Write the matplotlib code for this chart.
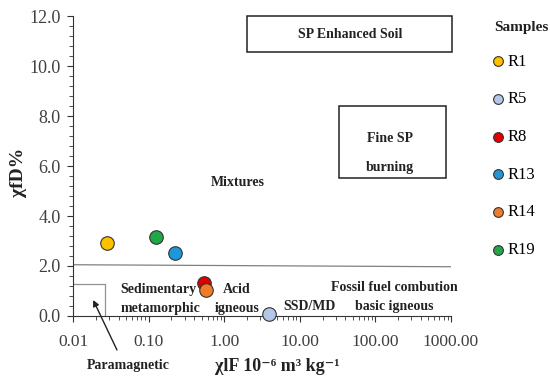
import matplotlib.pyplot as plt
from matplotlib.ticker import FixedLocator, MultipleLocator, LogLocator, NullFormatter

plt.rcParams['font.family'] = ['Liberation Serif', 'DejaVu Serif']

## data
samples = ["R1", "R5", "R8", "R13", "R14", "R19"]
chi_lf = [0.028, 3.9, 0.54, 0.22, 0.57, 0.125]
chi_fd = [2.92, 0.08, 1.32, 2.52, 1.04, 3.18]
colors = ["#FFC000", "#B4C7E7", "#E00000", "#1F97D6", "#F07C28", "#1FA846"]

x_ticks = [0.01, 0.1, 1, 10, 100, 1000]
x_labels = ["0.01", "0.10", "1.00", "10.00", "100.00", "1000.00"]
y_ticks = [0, 2, 4, 6, 8, 10, 12]

## chart
fig = plt.figure(figsize=(5.5, 3.83), dpi=100)
ax = fig.add_axes([0.133, 0.175, 0.687, 0.783])

ax.set_xscale("log")
ax.set_xlim(0.01, 1000)
ax.set_ylim(0, 12)

# threshold line
ax.plot([0.01, 1000], [2.05, 1.97], color="#808080", lw=0.9, zorder=1)

# paramagnetic box
ax.plot([0.01, 0.0265, 0.0265], [1.28, 1.28, 0], color="#909090", lw=0.9, zorder=1)

# region boxes
ax.add_patch(plt.Rectangle((2.0, 10.56), 1020 - 2.0, 1.44, fill=False,
                           ec="#222222", lw=1.1, clip_on=False))
ax.add_patch(plt.Rectangle((33, 5.52), 850 - 33, 2.88, fill=False,
                           ec="#222222", lw=1.1, clip_on=False))

bold = dict(fontsize=10, fontweight="bold", color="#222222")
ax.text(46, 11.28, "SP Enhanced Soil", ha="center", va="center", **bold)
ax.text(155, 7.12, "Fine SP", ha="center", va="center", **bold)
ax.text(155, 5.96, "burning", ha="center", va="center", **bold)
ax.text(1.52, 5.36, "Mixtures", ha="center", va="center", **bold)
ax.text(0.042, 1.04, "Sedimentary", ha="left", va="center", **bold)
ax.text(0.042, 0.28, "metamorphic", ha="left", va="center", **bold)
ax.text(0.96, 1.04, "Acid", ha="left", va="center", **bold)
ax.text(0.75, 0.28, "igneous", ha="left", va="center", **bold)
ax.text(6.0, 0.36, "SSD/MD", ha="left", va="center", **bold)
ax.text(176, 1.12, "Fossil fuel combution", ha="center", va="center", **bold)
ax.text(176, 0.36, "basic igneous", ha="center", va="center", **bold)

ax.text(0.053, -2.0, "Paramagnetic", ha="center", va="center", clip_on=False, **bold)
ax.annotate("", xy=(0.0184, 0.64), xytext=(0.038, -1.36), annotation_clip=False,
            arrowprops=dict(arrowstyle="-|>", color="#222222", lw=1.0,
                            mutation_scale=9, shrinkA=0, shrinkB=0))

for name, x, y, c in zip(samples, chi_lf, chi_fd, colors):
    ax.scatter(x, y, s=95, color=c, edgecolor="#333333", linewidth=0.8,
               label=name, zorder=3, clip_on=False)

# axes style
for s in ["top", "right"]:
    ax.spines[s].set_visible(False)
ax.spines["left"].set_color("#333333")
ax.spines["bottom"].set_color("#333333")

ax.xaxis.set_major_locator(FixedLocator(x_ticks))
ax.set_xticklabels(x_labels)
ax.xaxis.set_minor_locator(LogLocator(base=10, subs=range(2, 10)))
ax.xaxis.set_minor_formatter(NullFormatter())
ax.yaxis.set_major_locator(FixedLocator(y_ticks))
ax.set_yticklabels([f"{v:.1f}" for v in y_ticks])
ax.yaxis.set_minor_locator(MultipleLocator(0.4))

ax.tick_params(axis="both", which="major", color="#333333",
               labelcolor="#404040", length=4)
ax.tick_params(axis="x", which="major", labelsize=12.5, pad=9)
ax.tick_params(axis="y", which="major", labelsize=13, pad=5)
ax.tick_params(axis="both", which="minor", color="#333333", length=3)

ax.set_xlabel("χlF 10⁻⁶ m³ kg⁻¹", fontsize=13, fontweight="bold",
              color="#222222", labelpad=5)
ax.xaxis.set_label_coords(0.54, -0.14)
ax.set_ylabel("χfD%", fontsize=14, fontweight="bold", color="#222222")
ax.yaxis.set_label_coords(-0.122, 0.48)

## legend
fig.text(0.898, 1 - 28 / 383, "Samples", fontsize=11, fontweight="bold",
         color="#222222", ha="left", va="center")
leg = ax.legend(loc="upper left", bbox_to_anchor=(1.09, 0.897), frameon=False,
                fontsize=12, labelspacing=1.3,
                handlelength=0.8, handletextpad=0.15, markerscale=0.72,
                borderaxespad=0)

plt.savefig("out.png", dpi=100)
